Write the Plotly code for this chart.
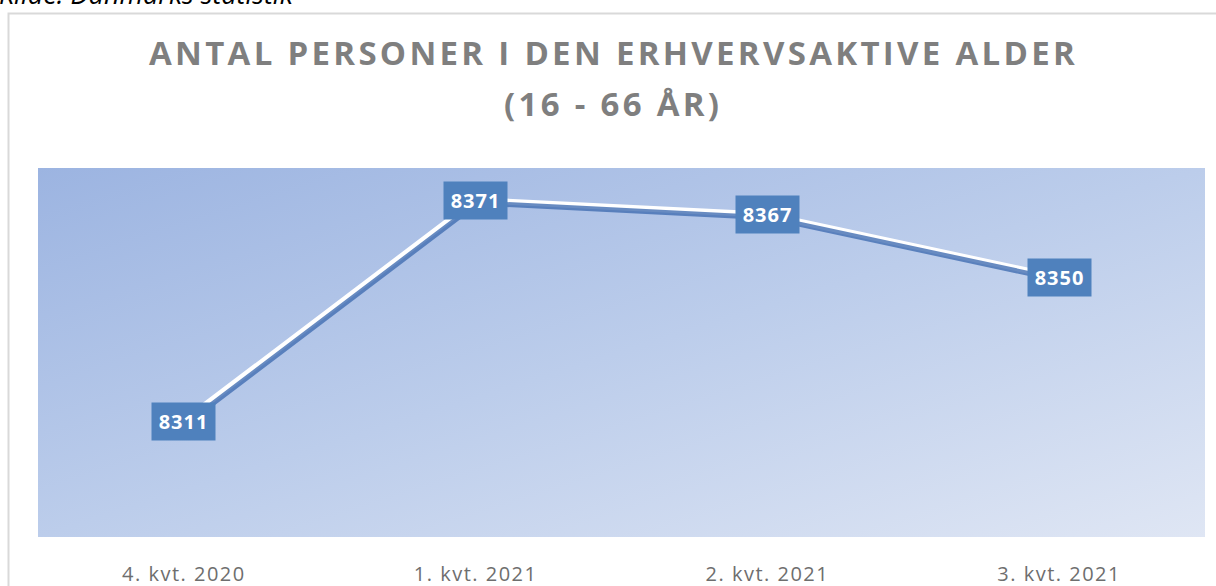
import base64
import plotly.graph_objects as go

categories = ["4. kvt. 2020", "1. kvt. 2021", "2. kvt. 2021", "3. kvt. 2021"]
values = [8311, 8371, 8367, 8350]
title_line1 = "ANTAL PERSONER I DEN ERHVERVSAKTIVE ALDER"
title_line2 = "(16 - 66 ÅR)"
source_text = "Kilde: Danmarks statistik"

W, H = 1216, 586
ML, MR, MT, MB = 38, 11, 168, 49
PW, PH = W - ML - MR, H - MT - MB
Y0, Y1 = 8279.5, 8379.7
ppu = PH / (Y1 - Y0)
ppx = PW / 4.0


def px_x(p):
    return (p - ML) / PW


def px_y(p):
    return 1 + (MT - p) / PH


svg = (
    '<svg xmlns="http://www.w3.org/2000/svg" width="1000" height="400" preserveAspectRatio="none" viewBox="0 0 1000 400">'
    '<defs><linearGradient id="g" x1="0" y1="0" x2="1" y2="1">'
    '<stop offset="0" stop-color="#9cb4e1"/>'
    '<stop offset="0.5" stop-color="#bccdeb"/>'
    '<stop offset="1" stop-color="#dfe6f4"/>'
    '</linearGradient></defs>'
    '<rect width="1000" height="400" fill="url(#g)"/></svg>'
)
svg_uri = "data:image/svg+xml;base64," + base64.b64encode(svg.encode()).decode()


def spaced(t, ls):
    return f'<span style="letter-spacing:{ls}px">{t}</span>'


fig = go.Figure()

# shadow line (same data, drawn on slightly shifted overlay axes)
fig.add_trace(go.Scatter(
    x=list(range(len(categories))), y=values, mode="lines",
    line=dict(color="rgba(66,110,178,0.8)", width=5),
    xaxis="x2", yaxis="y2", hoverinfo="skip", showlegend=False,
))
# main white line
fig.add_trace(go.Scatter(
    x=categories, y=values, mode="lines",
    line=dict(color="white", width=6),
    showlegend=False,
))

for c, v in zip(categories, values):
    fig.add_annotation(
        x=c, y=v, text="<b>" + spaced(str(v), 1) + "</b>", showarrow=False,
        font=dict(family="Open Sans", size=20, color="white"),
        bgcolor="#4f81bd", borderpad=6, width=51, height=25,
        xanchor="center", yanchor="middle",
    )

fig.add_annotation(
    xref="paper", yref="paper", x=px_x(613.5), y=px_y(52.5),
    text="<b>" + spaced(title_line1, 3.3) + "</b>", showarrow=False, yanchor="middle",
    font=dict(family="Open Sans", size=33, color="#7f7f7f"),
)
fig.add_annotation(
    xref="paper", yref="paper", x=px_x(612.5), y=px_y(103),
    text="<b>" + spaced(title_line2, 3.3) + "</b>", showarrow=False, yanchor="middle",
    font=dict(family="Open Sans", size=33, color="#7f7f7f"),
)
fig.add_annotation(
    xref="paper", yref="paper", x=px_x(-3), y=px_y(-7),
    text=f"<i>{source_text}</i>", showarrow=False, xanchor="left", yanchor="middle",
    font=dict(family="Open Sans", size=27, color="#000000"),
)

# outer chart border
fig.add_shape(
    type="rect", xref="paper", yref="paper",
    x0=px_x(8.5), x1=px_x(1230),
    y0=px_y(600), y1=px_y(13.5),
    line=dict(color="#d9d9d9", width=2), fillcolor="rgba(0,0,0,0)", layer="below",
)

fig.add_layout_image(
    source=svg_uri, xref="paper", yref="paper", x=0, y=1, sizex=1, sizey=1,
    sizing="stretch", layer="below", xanchor="left", yanchor="top",
)

fig.update_layout(
    width=W, height=H,
    margin=dict(l=ML, r=MR, t=MT, b=MB, autoexpand=False),
    paper_bgcolor="white", plot_bgcolor="rgba(0,0,0,0)",
    xaxis=dict(type="category", range=[-0.5, 3.5], showgrid=False, zeroline=False,
               showline=False, ticks="", fixedrange=True, automargin=False,
               tickmode="array", tickvals=categories,
               ticktext=[spaced(c, 1.5) for c in categories],
               ticklabelstandoff=23,
               tickfont=dict(family="Open Sans", size=20, color="#6e6e6e")),
    yaxis=dict(range=[Y0, Y1], visible=False, fixedrange=True, automargin=False),
    xaxis2=dict(range=[-0.5 - 2 / ppx, 3.5 - 2 / ppx], overlaying="x", visible=False),
    yaxis2=dict(range=[Y0 + 3 / ppu, Y1 + 3 / ppu], overlaying="y", visible=False),
)

fig.write_html(
    "out.html",
    config={"displayModeBar": False, "staticPlot": True},
    post_script="document.body.style.margin='0';document.body.style.overflow='hidden';",
)
